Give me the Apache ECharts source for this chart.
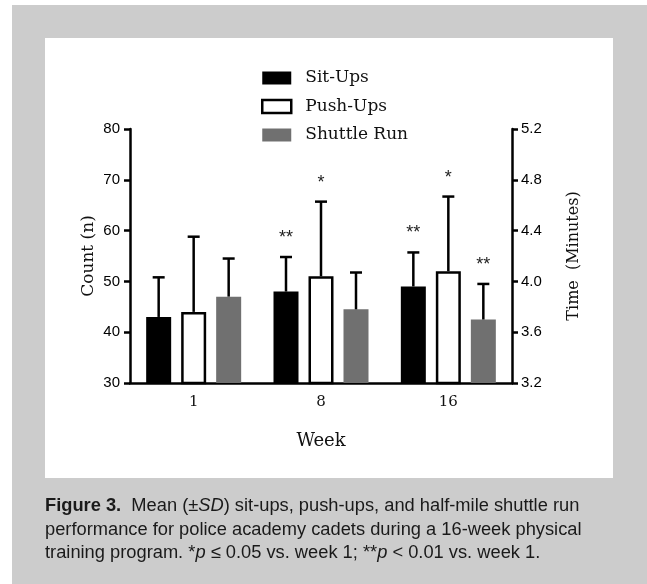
<!DOCTYPE html>
<html>
<head>
<meta charset="utf-8">
<script src="https://cdn.jsdelivr.net/npm/echarts@6/dist/echarts.min.js"></script>
<style>
  html, body { margin: 0; padding: 0; background: #ffffff; }
  #wrap { position: relative; width: 647px; height: 584px; overflow: hidden; background: #ffffff; }
  #gray { position: absolute; left: 12px; top: 5px; width: 635px; height: 579px; background: #cccccc; }
  #panel { position: absolute; left: 45px; top: 38px; width: 568px; height: 440px; background: #ffffff; }
  #chart { position: absolute; left: 0; top: 0; width: 647px; height: 584px; }
  #caption { position: absolute; left: 45px; top: 493px; width: 600px; font-family: "Liberation Sans", Arial, sans-serif; font-size: 18.3px; line-height: 23.5px; color: #1a1a1a; white-space: nowrap; }
  #caption b { font-weight: bold; }
</style>
</head>
<body>
<div id="wrap">
  <div id="gray"></div>
  <div id="panel"></div>
  <div id="chart"></div>
  <div id="caption"><b>Figure 3.</b>&nbsp; Mean (±<i>SD</i>) sit-ups, push-ups, and half-mile shuttle run<br>performance for police academy cadets during a 16-week physical<br>training program. *<i>p</i> ≤ 0.05 vs. week 1; **<i>p</i> &lt; 0.01 vs. week 1.</div>
</div>
<script>
// ---- data ----
const weeks = ['1', '8', '16'];
const sitUpsMean = [43, 48, 49];
const sitUpsSD = [7.8, 6.8, 6.7];
const pushUpsMean = [44, 51, 52];
const pushUpsSD = [14.8, 14.7, 14.7];
const shuttleMean = [3.88, 3.78, 3.70];
const shuttleSD = [0.30, 0.29, 0.28];
const sitUpsSig = ['', '**', '**'];
const pushUpsSig = ['', '*', '*'];
const shuttleSig = ['', '', '**'];
const countTicks = { min: 30, max: 80, interval: 10 };
const timeTicks = { min: 3.2, max: 5.2, interval: 0.4 };

// ---- layout constants ----
const BAR_W = 25;
const BAR_GAP = 10;
const SERIF = '"DejaVu Serif", "Liberation Serif", serif';
const SANS = '"Liberation Sans", Arial, sans-serif';

const chart = echarts.init(document.getElementById('chart'), null, { renderer: 'canvas' });

function errData(means, sds) {
  return means.map((m, i) => [i, m, sds[i]]);
}

function makeErr(offsetIdx, sig) {
  return function (params, api) {
    const cat = api.value(0), mean = api.value(1), sd = api.value(2);
    const base = api.coord([cat, mean]);
    const top = api.coord([cat, mean + sd]);
    const x = base[0] + offsetIdx * (BAR_W + BAR_GAP);
    const children = [
      { type: 'line', shape: { x1: x, y1: base[1], x2: x, y2: top[1] }, style: { stroke: '#000', lineWidth: 2.5 } },
      { type: 'line', shape: { x1: x - 6, y1: top[1], x2: x + 6, y2: top[1] }, style: { stroke: '#000', lineWidth: 2.5 } }
    ];
    const s = sig[params.dataIndex];
    if (s) {
      children.push({ type: 'text', x: x, y: top[1] - 19, style: { text: s, fill: '#222', font: '18px ' + SANS, align: 'center', verticalAlign: 'middle' } });
    }
    return { type: 'group', children: children };
  };
}

const axisLineStyle = { color: '#000', width: 2.5 };

chart.setOption({
  animation: false,
  backgroundColor: 'transparent',
  grid: { left: 130, right: 135, top: 129, bottom: 201, containLabel: false },
  legend: {
    orient: 'vertical',
    left: 261,
    top: 68,
    padding: 0,
    itemWidth: 29,
    itemHeight: 13,
    itemGap: 8.5,
    icon: 'rect',
    textStyle: { fontFamily: SERIF, fontSize: 17, color: '#111', lineHeight: 20, padding: [0, 0, 0, 9] },
    data: [
      { name: 'Sit-Ups', itemStyle: { color: '#000', borderWidth: 0 } },
      { name: 'Push-Ups', itemStyle: { color: '#fff', borderColor: '#000', borderWidth: 2.5 } },
      { name: 'Shuttle Run', itemStyle: { color: '#707070', borderWidth: 0 } }
    ]
  },
  xAxis: {
    type: 'category',
    data: weeks,
    name: 'Week',
    nameLocation: 'middle',
    nameGap: 49,
    nameTextStyle: { fontFamily: SERIF, fontSize: 18, color: '#111' },
    axisLine: { lineStyle: axisLineStyle },
    axisTick: { alignWithLabel: true, length: 6, lineStyle: { color: '#000', width: 2.5 } },
    axisLabel: { fontFamily: SERIF, fontSize: 15, color: '#111', margin: 12 },
    splitLine: { show: false }
  },
  yAxis: [
    {
      type: 'value',
      position: 'left',
      min: countTicks.min, max: countTicks.max, interval: countTicks.interval,
      name: 'Count (n)',
      nameLocation: 'middle',
      nameRotate: 90,
      nameGap: 33,
      nameMoveOverlap: false,
      nameTextStyle: { fontFamily: SERIF, fontSize: 17, color: '#111' },
      axisLine: { show: true, lineStyle: axisLineStyle },
      axisTick: { show: true, length: 6, lineStyle: { color: '#000', width: 2.5 } },
      axisLabel: { fontFamily: SANS, fontSize: 15, color: '#000', margin: 10 },
      splitLine: { show: false }
    },
    {
      type: 'value',
      position: 'right',
      min: timeTicks.min, max: timeTicks.max, interval: timeTicks.interval,
      name: 'Time  (Minutes)',
      nameLocation: 'middle',
      nameRotate: 90,
      nameGap: 54,
      nameMoveOverlap: false,
      nameTextStyle: { fontFamily: SERIF, fontSize: 16, color: '#111' },
      axisLine: { show: true, lineStyle: axisLineStyle },
      axisTick: { show: true, length: 6, lineStyle: { color: '#000', width: 2.5 } },
      axisLabel: { fontFamily: SANS, fontSize: 15, color: '#000', margin: 9, formatter: v => v.toFixed(1) },
      splitLine: { show: false }
    }
  ],
  series: [
    { name: 'Sit-Ups', type: 'bar', yAxisIndex: 0, barWidth: BAR_W, barGap: (BAR_GAP / BAR_W * 100) + '%', data: sitUpsMean, itemStyle: { color: '#000' }, z: 2 },
    { name: 'Push-Ups', type: 'bar', yAxisIndex: 0, barWidth: BAR_W, data: pushUpsMean, itemStyle: { color: '#fff', borderColor: '#000', borderWidth: 2.5 }, z: 2 },
    { name: 'Shuttle Run', type: 'bar', yAxisIndex: 1, barWidth: BAR_W, data: shuttleMean, itemStyle: { color: '#707070' }, z: 2 },
    { type: 'custom', yAxisIndex: 0, data: errData(sitUpsMean, sitUpsSD), renderItem: makeErr(-1, sitUpsSig), z: 3, silent: true },
    { type: 'custom', yAxisIndex: 0, data: errData(pushUpsMean, pushUpsSD), renderItem: makeErr(0, pushUpsSig), z: 3, silent: true },
    { type: 'custom', yAxisIndex: 1, data: errData(shuttleMean, shuttleSD), renderItem: makeErr(1, shuttleSig), z: 3, silent: true }
  ]
});
</script>
</body>
</html>
